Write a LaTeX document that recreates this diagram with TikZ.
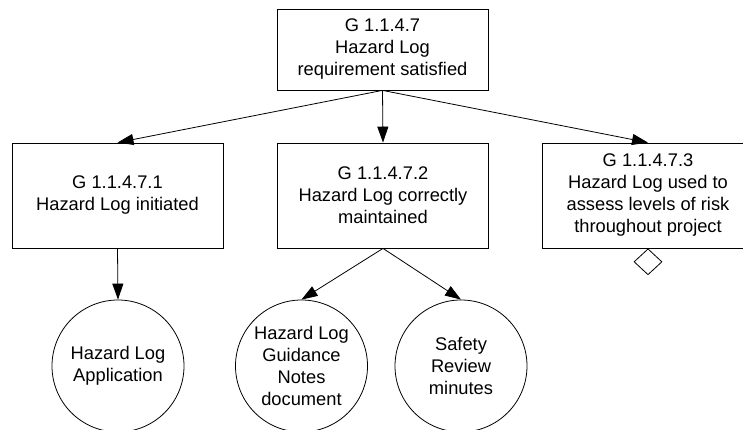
\documentclass[tikz,border=0pt]{standalone}
\usepackage{fontspec}
\setmainfont{Liberation Sans}
\usetikzlibrary{shapes.geometric,arrows.meta}

\begin{document}
\begin{tikzpicture}[x=1pt,y=-1pt,
  font=\fontsize{18.3}{22}\selectfont,
  goalbox/.style={draw, line width=0.8pt, rectangle, align=center,
    minimum width=211pt, inner sep=0pt},
  solution/.style={draw, line width=0.8pt, circle, align=center,
    minimum size=132pt, inner sep=0pt},
  undeveloped/.style={draw, line width=0.8pt, diamond, minimum width=28pt,
    minimum height=26pt, inner sep=0pt, anchor=north},
  link/.style={line width=0.8pt, -{Triangle[length=16pt,width=11pt]}}
]
\useasboundingbox (0,0) rectangle (743,430);

% goals
\node[goalbox, minimum height=81pt] (g) at (382.5,49.5)
  {G 1.1.4.7\\Hazard Log\\requirement satisfied};
\node[goalbox, minimum height=105pt] (g1) at (117.5,195.5)
  {G 1.1.4.7.1\\Hazard Log initiated};
\node[goalbox, minimum height=105pt] (g2) at (383,195.5)
  {G 1.1.4.7.2\\Hazard Log correctly\\maintained};
\node[goalbox, minimum height=105pt] (g3) at (648,195.5)
  {G 1.1.4.7.3\\Hazard Log used to\\assess levels of risk\\throughout project};
\node[undeveloped] (u3) at (g3.south) {};

% solutions
\node[solution] (s1) at (118,366) {Hazard Log\\Application};
\node[solution] (s2) at (301.5,366) {Hazard Log\\Guidance\\Notes\\document};
\node[solution] (s3) at (461,366) {Safety\\Review\\minutes};

% support links
\draw[link] (g.south) -- (g1.north);
\draw[link] (g.south) -- (g2.north);
\draw[link] (g.south) -- (g3.north);
\draw[link] (g1.south) -- (s1.north);
\draw[link] (g2.south) -- (s2.north);
\draw[link] (g2.south) -- (s3.north);
\end{tikzpicture}
\end{document}
